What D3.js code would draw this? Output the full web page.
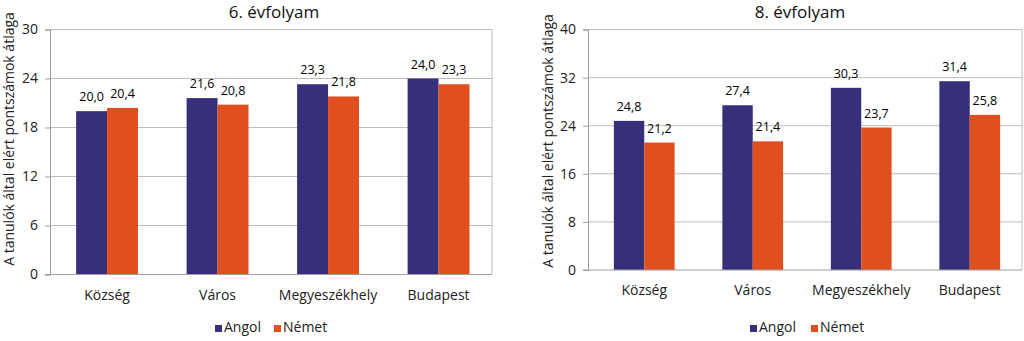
<!DOCTYPE html>
<html><head><meta charset="utf-8">
<script src="https://cdn.jsdelivr.net/npm/d3@7"></script>
<style>
html,body{margin:0;padding:0;background:#fff;}
svg{display:block;font-family:"Open Sans",sans-serif;}
</style></head>
<body>
<svg id="c" width="1024" height="341"></svg>
<script>
const categories = ["Község", "Város", "Megyeszékhely", "Budapest"];
const seriesNames = ["Angol", "Német"];
const grade6Angol = [20.0, 21.6, 23.3, 24.0];
const grade6Nemet = [20.4, 20.8, 21.8, 23.3];
const grade8Angol = [24.8, 27.4, 30.3, 31.4];
const grade8Nemet = [21.2, 21.4, 23.7, 25.8];
const grade6Ticks = [0, 6, 12, 18, 24, 30];
const grade8Ticks = [0, 8, 16, 24, 32, 40];
const titles = ["6. évfolyam", "8. évfolyam"];
const yLabel = "A tanulók által elért pontszámok átlaga";
const colors = ["#372F7A", "#E0501F"];

const svg = d3.select("#c");
const fmt = v => d3.format(".1f")(v).replace(".", ",");

function drawChart(cfg) {
  const g = svg.append("g");
  const x = d3.scaleBand().domain(categories).range([cfg.x0 + cfg.shift, cfg.x1 + cfg.shift]).paddingInner(0.44).paddingOuter(0.22);
  const xi = d3.scaleBand().domain(seriesNames).range([0, x.bandwidth()]);
  const y = d3.scaleLinear().domain([0, d3.max(cfg.ticks)]).range([cfg.y0, cfg.y1]);

  // gridlines
  g.append("g").selectAll("line").data(cfg.ticks.filter(t => t > 0)).join("line")
    .attr("x1", cfg.x0).attr("x2", cfg.x1)
    .attr("y1", d => y(d)).attr("y2", d => y(d))
    .attr("stroke", "#BDBDBD").attr("stroke-width", 1);
  // frame right
  g.append("line").attr("x1", cfg.x1).attr("x2", cfg.x1).attr("y1", cfg.y1).attr("y2", cfg.y0)
    .attr("stroke", "#BDBDBD");
  // bars
  const data = [];
  categories.forEach((c, i) => {
    cfg.series.forEach((s, j) => data.push({c, s: seriesNames[j], v: s[i], j}));
  });
  g.append("g").selectAll("rect").data(data).join("rect")
    .attr("x", d => x(d.c) + xi(d.s))
    .attr("width", xi.bandwidth())
    .attr("y", d => y(d.v))
    .attr("height", d => y(0) - y(d.v))
    .attr("fill", d => colors[d.j]);
  // value labels
  g.append("g").selectAll("text").data(data).join("text")
    .attr("x", d => x(d.c) + xi(d.s) + xi.bandwidth() / 2)
    .attr("y", d => y(d.v) - 10)
    .attr("text-anchor", "middle")
    .attr("font-size", 12.5).attr("fill", "#000")
    .text(d => fmt(d.v));

  // y axis
  const ya = d3.axisLeft(y).tickValues(cfg.ticks).tickSize(5).tickPadding(7).tickFormat(d3.format("d"));
  const ax = g.append("g").attr("transform", `translate(${cfg.x0},0)`).call(ya);
  ax.select(".domain").attr("stroke", "#9E9E9E");
  ax.selectAll(".tick line").attr("stroke", "#9E9E9E");
  ax.selectAll(".tick text").attr("font-size", 14).attr("fill", "#222").attr("font-family", "Open Sans");
  // x axis baseline
  g.append("line").attr("x1", cfg.x0 - 5).attr("x2", cfg.x1).attr("y1", cfg.y0).attr("y2", cfg.y0).attr("stroke", "#9E9E9E");
  // category labels
  g.append("g").selectAll("text").data(categories).join("text")
    .attr("x", d => x(d) + x.bandwidth() / 2)
    .attr("y", cfg.catY)
    .attr("text-anchor", "middle").attr("font-size", 14).attr("fill", "#222")
    .text(d => d);
  // title
  g.append("text").attr("x", cfg.titleX).attr("y", 18).attr("text-anchor", "middle")
    .attr("font-size", 17).attr("fill", "#111").text(cfg.title);
  // y label
  g.append("text").attr("transform", `translate(${cfg.ylX},${cfg.ylY}) rotate(-90)`)
    .attr("text-anchor", "middle").attr("font-size", 14).attr("fill", "#222").text(yLabel);
  // legend
  const lg = g.append("g").attr("transform", `translate(${cfg.legX},${cfg.legY})`);
  const offs = [0, cfg.legGap];
  seriesNames.forEach((n, j) => {
    lg.append("rect").attr("x", offs[j]).attr("y", -7).attr("width", 7).attr("height", 7).attr("fill", colors[j]);
    lg.append("text").attr("x", offs[j] + 9).attr("y", 0).attr("font-size", 14).attr("fill", "#222").text(n);
  });
}

drawChart({x0: 50, x1: 492, shift: 1.8, y0: 274.5, y1: 29.5, ticks: grade6Ticks, series: [grade6Angol, grade6Nemet],
  catY: 300, title: titles[0], titleX: 274, ylX: 14, ylY: 139, legX: 215, legY: 332, legGap: 59});
drawChart({x0: 588, x1: 1022, shift: 2, y0: 270, y1: 29.5, ticks: grade8Ticks, series: [grade8Angol, grade8Nemet],
  catY: 295, title: titles[1], titleX: 800, ylX: 553, ylY: 141, legX: 750, legY: 332, legGap: 61});
</script>
</body></html>
